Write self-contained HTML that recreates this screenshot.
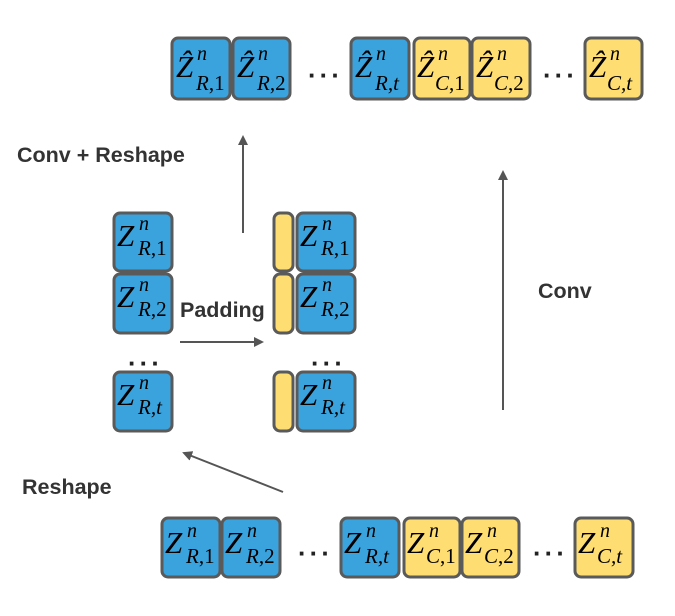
<!DOCTYPE html>
<html><head><meta charset="utf-8"><style>
body{margin:0;background:#fff}
svg{display:block}
.b{fill:#3aa3dd;stroke:#5a5a5a;stroke-width:3}
.y{fill:#fedd72;stroke:#5a5a5a;stroke-width:3}
.z{font-family:"Liberation Serif",serif;font-style:italic;fill:#000}
.s{font-family:"Liberation Serif",serif;font-style:normal}
.l{font-family:"Liberation Sans",sans-serif;font-weight:bold;font-size:21.5px;fill:#333}
.d{font-family:"Liberation Sans",sans-serif;font-weight:bold;font-size:26px;letter-spacing:3px;fill:#222}
.a{stroke:#555;stroke-width:2;fill:none}
</style></head><body>
<svg width="675" height="616" viewBox="0 0 675 616">
<defs><marker id="m" markerWidth="10" markerHeight="10" refX="8" refY="5" orient="auto" markerUnits="userSpaceOnUse"><path d="M0,0 L10,5 L0,10z" fill="#555"/></marker>
</defs>

<!-- top row -->
<rect class="b" x="172" y="38" width="58" height="61" rx="6"/>
<rect class="b" x="233" y="38" width="57" height="61" rx="6"/>
<rect class="b" x="351" y="38" width="58" height="61" rx="6"/>
<rect class="y" x="414" y="38" width="56" height="61" rx="6"/>
<rect class="y" x="472" y="38" width="58" height="61" rx="6"/>
<rect class="y" x="585" y="38" width="57" height="61" rx="6"/>
<g class="z">
<g transform="translate(172,40)"><text x="4" y="37" font-size="31">Ẑ</text><text x="25" y="20" font-size="20">n</text><text x="24" y="50" font-size="21">R<tspan class="s">,1</tspan></text></g>
<g transform="translate(233,40)"><text x="4" y="37" font-size="31">Ẑ</text><text x="25" y="20" font-size="20">n</text><text x="24" y="50" font-size="21">R<tspan class="s">,2</tspan></text></g>
<g transform="translate(351,40)"><text x="4" y="37" font-size="31">Ẑ</text><text x="25" y="20" font-size="20">n</text><text x="24" y="50" font-size="21">R,t</text></g>
<g transform="translate(413,40)"><text x="4" y="37" font-size="31">Ẑ</text><text x="25" y="20" font-size="20">n</text><text x="22" y="50" font-size="21">C<tspan class="s">,1</tspan></text></g>
<g transform="translate(472,40)"><text x="4" y="37" font-size="31">Ẑ</text><text x="25" y="20" font-size="20">n</text><text x="22" y="50" font-size="21">C<tspan class="s">,2</tspan></text></g>
<g transform="translate(585,40)"><text x="4" y="37" font-size="31">Ẑ</text><text x="25" y="20" font-size="20">n</text><text x="22" y="50" font-size="21">C,t</text></g>
</g>
<text class="d" x="308" y="84">···</text>
<text class="d" x="543" y="84">···</text>

<!-- middle -->
<rect class="b" x="114" y="213" width="58" height="58" rx="6"/>
<rect class="b" x="114" y="274" width="58" height="59" rx="6"/>
<rect class="b" x="114" y="372" width="58" height="59" rx="6"/>
<rect class="y" x="274" y="213" width="19" height="58" rx="6"/>
<rect class="y" x="274" y="274" width="19" height="59" rx="6"/>
<rect class="y" x="274" y="372" width="19" height="59" rx="6"/>
<rect class="b" x="297" y="213" width="58" height="58" rx="6"/>
<rect class="b" x="297" y="274" width="58" height="59" rx="6"/>
<rect class="b" x="297" y="372" width="58" height="59" rx="6"/>
<g class="z">
<g transform="translate(114,213)"><text x="3" y="33" font-size="31">Z</text><text x="25" y="17" font-size="20">n</text><text x="24" y="42" font-size="21">R<tspan class="s">,1</tspan></text></g>
<g transform="translate(114,274)"><text x="3" y="33" font-size="31">Z</text><text x="25" y="17" font-size="20">n</text><text x="24" y="42" font-size="21">R<tspan class="s">,2</tspan></text></g>
<g transform="translate(114,372)"><text x="3" y="33" font-size="31">Z</text><text x="25" y="17" font-size="20">n</text><text x="24" y="42" font-size="21">R,t</text></g>
<g transform="translate(297,213)"><text x="3" y="33" font-size="31">Z</text><text x="25" y="17" font-size="20">n</text><text x="24" y="42" font-size="21">R<tspan class="s">,1</tspan></text></g>
<g transform="translate(297,274)"><text x="3" y="33" font-size="31">Z</text><text x="25" y="17" font-size="20">n</text><text x="24" y="42" font-size="21">R<tspan class="s">,2</tspan></text></g>
<g transform="translate(297,372)"><text x="3" y="33" font-size="31">Z</text><text x="25" y="17" font-size="20">n</text><text x="24" y="42" font-size="21">R,t</text></g>
</g>
<text class="d" x="128" y="372">···</text>
<text class="d" x="311" y="372">···</text>

<!-- bottom row -->
<rect class="b" x="162" y="518" width="58" height="59" rx="6"/>
<rect class="b" x="222" y="518" width="58" height="59" rx="6"/>
<rect class="b" x="341" y="518" width="58" height="59" rx="6"/>
<rect class="y" x="404" y="518" width="56" height="59" rx="6"/>
<rect class="y" x="462" y="518" width="57" height="59" rx="6"/>
<rect class="y" x="575" y="518" width="58" height="59" rx="6"/>
<g class="z">
<g transform="translate(162,518)"><text x="3" y="35" font-size="31">Z</text><text x="25" y="19" font-size="20">n</text><text x="24" y="45" font-size="21">R<tspan class="s">,1</tspan></text></g>
<g transform="translate(222,518)"><text x="3" y="35" font-size="31">Z</text><text x="25" y="19" font-size="20">n</text><text x="24" y="45" font-size="21">R<tspan class="s">,2</tspan></text></g>
<g transform="translate(341,518)"><text x="3" y="35" font-size="31">Z</text><text x="25" y="19" font-size="20">n</text><text x="24" y="45" font-size="21">R,t</text></g>
<g transform="translate(404,518)"><text x="3" y="35" font-size="31">Z</text><text x="25" y="19" font-size="20">n</text><text x="22" y="45" font-size="21">C<tspan class="s">,1</tspan></text></g>
<g transform="translate(462,518)"><text x="3" y="35" font-size="31">Z</text><text x="25" y="19" font-size="20">n</text><text x="22" y="45" font-size="21">C<tspan class="s">,2</tspan></text></g>
<g transform="translate(575,518)"><text x="3" y="35" font-size="31">Z</text><text x="25" y="19" font-size="20">n</text><text x="22" y="45" font-size="21">C,t</text></g>
</g>
<text class="d" x="298" y="562">···</text>
<text class="d" x="533" y="562">···</text>

<!-- arrows -->
<line class="a" x1="243" y1="233" x2="243" y2="137" marker-end="url(#m)"/>
<line class="a" x1="503" y1="410" x2="503" y2="172" marker-end="url(#m)"/>
<line class="a" x1="180" y1="342" x2="262" y2="342" marker-end="url(#m)"/>
<line class="a" x1="283" y1="492" x2="184" y2="453" marker-end="url(#m)"/>

<!-- labels -->
<text class="l" x="17" y="162">Conv + Reshape</text>
<text class="l" x="180" y="317">Padding</text>
<text class="l" x="538" y="298">Conv</text>
<text class="l" x="22" y="494">Reshape</text>
</svg>
</body></html>
